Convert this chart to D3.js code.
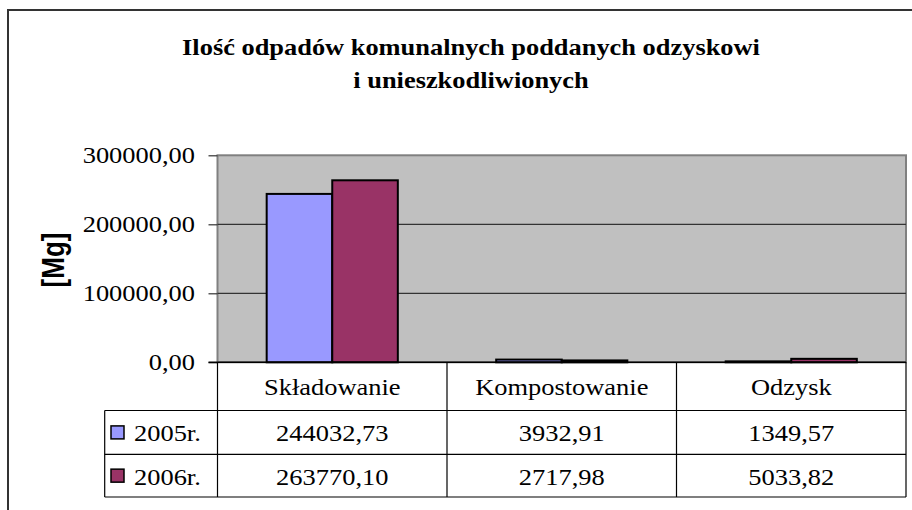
<!DOCTYPE html>
<html>
<head>
<meta charset="utf-8">
<script src="https://cdn.jsdelivr.net/npm/d3@7"></script>
<style>
    body { margin: 0; background: #fff; }
    svg { display: block; }
</style>
</head>
<body>
<div id="chart"></div>
<script>
'use strict';

// Data
const categories = ['Składowanie', 'Kompostowanie', 'Odzysk'];
const seriesNames = ['2005r.', '2006r.'];
const values2005 = [244032.73, 3932.91, 1349.57];
const values2006 = [263770.10, 2717.98, 5033.82];
const yTicks = [0, 100000, 200000, 300000];
const titleLines = ['Ilość odpadów komunalnych poddanych odzyskowi', 'i unieszkodliwionych'];
const yTitle = '[Mg]';

const settings = { width: 912, height: 510, elId: '#chart' };
const plot = { left: 217.5, right: 906, top: 155.3, bottom: 362.3 };
const table = { left: 104.7, headerBottom: 410.5, rowBottoms: [454.3, 497] };
const colors = ['#9999FF', '#993366'];
const serif = '"Liberation Serif", "Times New Roman", serif';
const sans = '"Liberation Sans", Arial, sans-serif';

const series = [values2005, values2006];

const locale = d3.formatLocale({ decimal: ',', thousands: ' ', grouping: [3], currency: ['', ''] });
const fmt = locale.format('.2f');

const svg = d3.select(settings.elId)
    .append('svg')
    .attr('width', settings.width)
    .attr('height', settings.height);

// chart frame (runs off the bottom and right)
svg.append('rect')
    .attr('x', 8).attr('y', 10)
    .attr('width', 960).attr('height', 560)
    .attr('fill', 'none')
    .attr('stroke', '#333')
    .attr('stroke-width', 2);

// the source picture is widened a bit horizontally, so texts get an x stretch
function addText(parent, str, x, y, opts) {
    const sx = opts.stretch || 1.15;
    return parent.append('text')
        .text(str)
        .attr('transform', `translate(${x},${y}) scale(${sx},1)` + (opts.rotate ? ` rotate(${opts.rotate})` : ''))
        .attr('text-anchor', opts.anchor || 'middle')
        .attr('dominant-baseline', 'central')
        .attr('font-family', opts.family || serif)
        .attr('font-size', opts.size || 23)
        .attr('font-weight', opts.weight || 'normal')
        .attr('fill', '#000');
}

// Title
titleLines.forEach((line, i) => {
    addText(svg, line, 471, 47 + i * 33, { weight: 'bold', size: 24, stretch: 1.1 });
});

// Scales
const y = d3.scaleLinear()
    .domain([0, 300000])
    .range([plot.bottom, plot.top]);

const x = d3.scaleBand()
    .domain(categories)
    .range([plot.left, plot.right])
    .padding(0);

// Excel-like gap width 150%
const barW = x.bandwidth() / 3.5;
const xs = d3.scaleBand()
    .domain(d3.range(series.length))
    .range([x.bandwidth() * 0.75 / 3.5, x.bandwidth() * 0.75 / 3.5 + barW * 2]);

// Plot background
svg.append('rect')
    .attr('x', plot.left).attr('y', plot.top)
    .attr('width', plot.right - plot.left)
    .attr('height', plot.bottom - plot.top)
    .attr('fill', '#C0C0C0')
    .attr('stroke', '#808080')
    .attr('stroke-width', 2);

// Gridlines
svg.append('g')
    .selectAll('line')
    .data(yTicks.filter(t => t > 0 && t < 300000))
    .join('line')
    .attr('x1', plot.left).attr('x2', plot.right)
    .attr('y1', d => y(d)).attr('y2', d => y(d))
    .attr('stroke', '#333')
    .attr('stroke-width', 1.2);

// Bars
const groups = svg.append('g')
    .selectAll('g')
    .data(categories)
    .join('g')
    .attr('transform', d => `translate(${x(d)},0)`);

groups.selectAll('rect')
    .data((d, ci) => series.map((s, si) => ({ si, v: s[ci] })))
    .join('rect')
    .attr('x', d => xs(d.si))
    .attr('width', xs.bandwidth())
    .attr('y', d => y(d.v))
    .attr('height', d => y(0) - y(d.v))
    .attr('fill', d => colors[d.si])
    .attr('stroke', '#000')
    .attr('stroke-width', 2);

// Y axis
const yAxis = svg.append('g')
    .attr('transform', `translate(${plot.left},0)`)
    .call(d3.axisLeft(y).tickValues(yTicks).tickSize(9).tickFormat(''));
yAxis.select('.domain').remove();
yAxis.selectAll('.tick line').attr('stroke', '#333').attr('stroke-width', 1.2);

yTicks.forEach(t => {
    addText(svg, fmt(t), 195, y(t), { anchor: 'end' });
});

addText(svg, yTitle, 53, 260, { family: sans, weight: 'bold', size: 26, stretch: 1.2, rotate: -90 });

// Zero axis line
svg.append('line')
    .attr('x1', plot.left - 9).attr('x2', plot.right)
    .attr('y1', y(0)).attr('y2', y(0))
    .attr('stroke', '#000').attr('stroke-width', 1.5);

// Data table
const tbl = svg.append('g')
    .attr('stroke', '#000')
    .attr('stroke-width', 1.2);

// vertical lines for category columns
const colEdges = categories.map(c => x(c)).concat([plot.right]);
colEdges.forEach(cx => {
    tbl.append('line')
        .attr('x1', cx).attr('x2', cx)
        .attr('y1', y(0)).attr('y2', table.rowBottoms[1]);
});
// legend column left edge
tbl.append('line')
    .attr('x1', table.left).attr('x2', table.left)
    .attr('y1', table.headerBottom).attr('y2', table.rowBottoms[1]);
// horizontal lines
[table.headerBottom].concat(table.rowBottoms).forEach(ry => {
    tbl.append('line')
        .attr('x1', table.left).attr('x2', plot.right)
        .attr('y1', ry).attr('y2', ry);
});

// category header
categories.forEach(c => {
    addText(svg, c, x(c) + x.bandwidth() / 2, (y(0) + table.headerBottom) / 2 + 1, {});
});

// rows
const rowTops = [table.headerBottom, table.rowBottoms[0]];
series.forEach((s, si) => {
    const cy = (rowTops[si] + table.rowBottoms[si]) / 2;
    svg.append('rect')
        .attr('x', 111).attr('y', cy - 6.5)
        .attr('width', 13).attr('height', 13)
        .attr('fill', colors[si])
        .attr('stroke', '#000')
        .attr('stroke-width', 1.5);
    addText(svg, seriesNames[si], 134, cy + 1, { anchor: 'start' });
    s.forEach((v, ci) => {
        addText(svg, fmt(v), x(categories[ci]) + x.bandwidth() / 2, cy + 1, {});
    });
});
</script>
</body>
</html>
